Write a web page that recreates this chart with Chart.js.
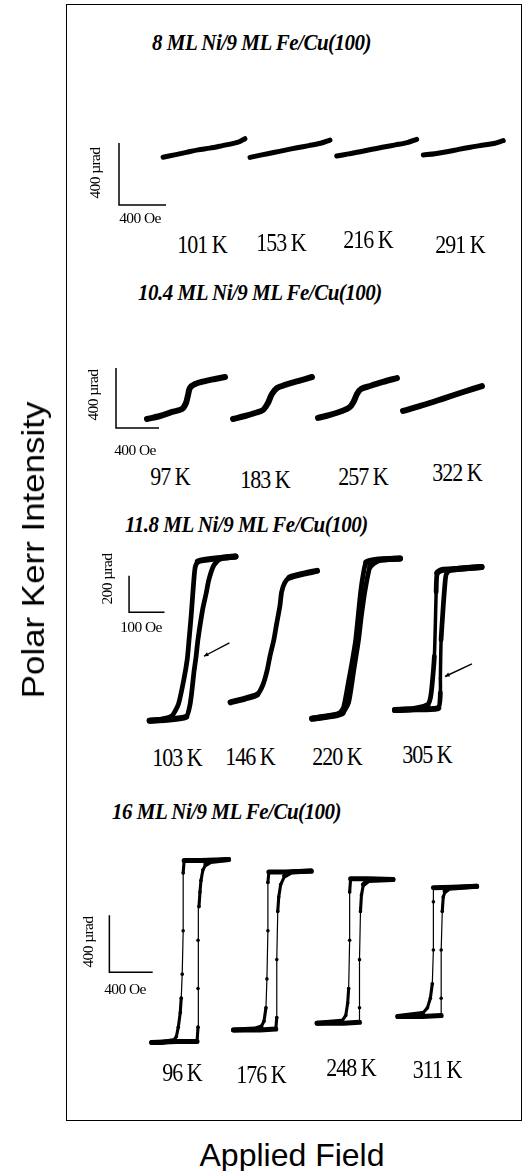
<!DOCTYPE html>
<html>
<head>
<meta charset="utf-8">
<script src="https://cdn.jsdelivr.net/npm/chart.js@4"></script>
<style>
  body { margin: 0; background: #fff; }
  #fig { position: relative; width: 524px; height: 1171px; overflow: hidden; font-family: "Liberation Serif", "Times New Roman", serif; color: #000; }
  #frame { position: absolute; left: 66px; top: 4px; width: 456px; height: 1117px; border: 1.5px solid #000; box-sizing: border-box; }
  canvas.panel { position: absolute; left: 0; }
  .lbl { position: absolute; white-space: nowrap; transform: translate(-50%, -50%); line-height: 1; }
  .title { font-weight: bold; font-style: italic; font-size: 21px; letter-spacing: -0.5px; transform: translate(0, -50%) scaleY(1.05); transform-origin: left center; }
  .temp { font-size: 22px; letter-spacing: -1px; transform: translate(-50%, -50%) scaleY(1.12); }
  .bar { font-size: 15.5px; letter-spacing: -0.6px; }
  .rot { transform: translate(-50%, -50%) rotate(-90deg); }
  .axis { font-family: "Liberation Sans", Arial, sans-serif; font-size: 32px; }
  .axis.rot { transform: translate(-50%, -50%) rotate(-90deg) scaleX(1.09); }
</style>
</head>
<body>
<div id="fig">
  <div id="frame"></div>
  <canvas class="panel" id="p1"></canvas>
  <canvas class="panel" id="p2"></canvas>
  <canvas class="panel" id="p3"></canvas>
  <canvas class="panel" id="p4"></canvas>
</div>
<script>
// Field H in Oe, Kerr signal in µrad, each loop centred on (0, 0)

// 8 ML Ni / 9 ML Fe
const temps8 = ['101 K', '153 K', '216 K', '291 K'];
const ni8_101 = [[-348, -60], [-250, -44], [-150, -28], [-50, -12], [50, -1], [150, 14], [250, 30], [300, 40], [348, 60]];
const ni8_153 = [[-340, -56], [-240, -40], [-140, -25], [-40, -9], [60, 6], [160, 20], [260, 35], [340, 56]];
const ni8_216 = [[-340, -54], [-240, -40], [-140, -26], [-40, -10], [60, 4], [160, 18], [260, 33], [340, 54]];
const ni8_291 = [[-340, -46], [-240, -38], [-140, -26], [-40, -10], [60, 4], [160, 16], [260, 28], [340, 46]];

// 10.4 ML Ni / 9 ML Fe
const temps104 = ['97 K', '183 K', '257 K', '322 K'];
const ni104_97 = [[-363, -140], [-242, -120], [-130, -93], [-37, -73], [0, -33], [19, 20], [37, 67], [84, 93], [177, 113], [270, 127], [363, 140]];
const ni104_183 = [[-367, -140], [-256, -120], [-163, -100], [-88, -80], [-42, -33], [-5, 27], [42, 67], [116, 87], [237, 113], [367, 140]];
const ni104_257 = [[-367, -133], [-256, -113], [-144, -87], [-70, -60], [-33, -20], [-5, 27], [33, 60], [116, 80], [237, 107], [367, 133]];
const ni104_322 = [[-367, -83], [-200, -48], [0, -2], [200, 45], [367, 83]];

// 11.8 ML Ni / 9 ML Fe (descending and ascending branches)
const temps118 = ['103 K', '146 K', '220 K', '305 K'];
const ni118_103_down = [[121, 450], [65, 439], [15, 423], [7, 387], [1, 255], [-4, 124], [-10, -8], [-15, -113], [-24, -218], [-40, -360], [-60, -429], [-88, -445], [-121, -450]];
const ni118_103_up = [[-121, -450], [-74, -445], [-18, -429], [-7, -360], [-1, -271], [4, -181], [10, -97], [15, -8], [29, 166], [38, 245], [46, 323], [60, 402], [79, 439], [121, 450]];
const ni118_146 = [[-122, -355], [-81, -334], [-47, -313], [-31, -260], [-19, -181], [-11, -103], [0, -13], [8, 76], [17, 171], [22, 250], [31, 302], [44, 329], [72, 345], [122, 366]];
const ni118_220_down = [[124, 439], [63, 434], [29, 418], [21, 360], [13, 255], [-1, -8], [-12, -139], [-21, -234], [-35, -376], [-49, -413], [-90, -429], [-124, -439]];
const ni118_220_up = [[-124, -439], [-63, -423], [-38, -408], [-21, -350], [-7, -181], [7, -8], [15, 124], [26, 271], [40, 397], [63, 429], [124, 439]];
const ni118_305_down = [[122, 392], [53, 381], [11, 376], [-3, 360], [-6, 255], [-8, 97], [-11, -97], [-17, -245], [-22, -324], [-31, -366], [-72, -387], [-122, -392]];
const ni118_305_up = [[-122, -392], [-58, -387], [0, -381], [6, -297], [6, -218], [8, -8], [14, 176], [17, 255], [22, 350], [33, 376], [81, 387], [122, 392]];

// 16 ML Ni / 9 ML Fe (descending and ascending branches)
const temps16 = ['96 K', '176 K', '248 K', '311 K'];
const ni16_96_down = [[355, 644], [100, 637], [-55, 637], [-64, 549], [-64, 142], [-73, -163], [-82, -332], [-91, -434], [-109, -536], [-127, -603], [-155, -631], [-264, -644], [-355, -644]];
const ni16_96_up = [[-355, -644], [-127, -637], [64, -637], [73, -536], [73, -264], [73, 75], [82, 312], [91, 414], [100, 495], [118, 570], [146, 610], [191, 630], [355, 644]];
const ni16_176_down = [[359, 559], [114, 553], [-32, 553], [-41, 478], [-41, 139], [-50, -200], [-59, -403], [-77, -498], [-105, -539], [-159, -553], [-359, -559]];
const ni16_176_up = [[-359, -559], [-114, -559], [32, -553], [41, -471], [41, -64], [50, 275], [59, 376], [77, 464], [114, 525], [177, 553], [359, 559]];
const ni16_248_down = [[350, 502], [123, 508], [-41, 508], [-50, 414], [-50, 75], [-59, -264], [-68, -366], [-86, -454], [-123, -495], [-350, -508]];
const ni16_248_up = [[-350, -508], [-105, -508], [41, -502], [41, -400], [41, -61], [50, 278], [59, 393], [77, 468], [123, 495], [350, 502]];
const ni16_311_down = [[363, 458], [137, 451], [-36, 448], [-36, 349], [-36, 10], [-46, -227], [-64, -329], [-91, -397], [-137, -437], [-364, -458]];
const ni16_311_up = [[-364, -458], [-137, -458], [36, -451], [36, -329], [36, 10], [46, 281], [55, 383], [73, 424], [109, 444], [364, 458]];

// Scale bars: [field, signal]
const bar8 = [400, 400];
const bar104 = [400, 400];
const bar118 = [100, 200];
const bar16 = [400, 400];

// Layout of the four panels (page pixels)
const panels = [
  { id: 'p1', top: 110, height: 120, oePx: 400 / 47, uradPx: 400 / 62,
    centers: [[204, 148], [290, 148.7], [376.7, 147.7], [463.3, 147.8]],
    loops: [[ni8_101], [ni8_153], [ni8_216], [ni8_291]],
    bar: bar8, corner: [119, 205], thin: 5, thick: 5, dot: 0, tension: 0.3,
    title: '8 ML Ni/9 ML Fe/Cu(100)', titleAt: [152, 43],
    temps: temps8, tempAt: [[202, 245], [281, 243], [368, 240], [460, 245]],
    barLbl: ['400 µrad', '400 Oe'], barLblAt: [[95, 173], [140, 218]] },
  { id: 'p2', top: 355, height: 85, oePx: 400 / 43, uradPx: 400 / 60,
    centers: [[186, 398], [272.5, 398], [357.5, 398], [442.5, 398.5]],
    loops: [[ni104_97], [ni104_183], [ni104_257], [ni104_322]],
    bar: bar104, corner: [116, 428], thin: 6, thick: 6, dot: 0, tension: 0.3,
    title: '10.4 ML Ni/9 ML Fe/Cu(100)', titleAt: [138, 293],
    temps: temps104, tempAt: [[170, 477], [265, 480], [363, 477], [457, 473]],
    barLbl: ['400 µrad', '400 Oe'], barLblAt: [[93, 395], [135, 450]] },
  { id: 'p3', top: 540, height: 200, oePx: 100 / 36, uradPx: 200 / 38,
    centers: [[191.5, 638.5], [274, 637.5], [357.5, 638.5], [441, 638.5]],
    loops: [[ni118_103_down, ni118_103_up], [ni118_146], [ni118_220_down, ni118_220_up], [ni118_305_down, ni118_305_up]],
    bar: bar118, corner: [127, 611], thin: 3.5, thick: 6, dot: 1.6, tension: 0.2,
    arrows: [{ loop: 0, tail: [104, -24], tip: [32, -97] }, { loop: 3, tail: [95, -139], tip: [19, -208] }],
    title: '11.8 ML Ni/9 ML Fe/Cu(100)', titleAt: [125, 525],
    temps: temps118, tempAt: [[177, 758], [250, 757], [337, 757], [427, 755]],
    barLbl: ['200 µrad', '100 Oe'], barLblAt: [[107, 579], [141, 627]] },
  { id: 'p4', top: 840, height: 220, oePx: 400 / 44, uradPx: 400 / 59,
    centers: [[189, 951], [272.5, 950.5], [356.5, 951], [440, 951.5]],
    loops: [[ni16_96_down, ni16_96_up], [ni16_176_down, ni16_176_up], [ni16_248_down, ni16_248_up], [ni16_311_down, ni16_311_up]],
    bar: bar16, corner: [107, 973], thin: 1.2, thick: 5, dot: 1.8, tension: 0,
    title: '16 ML Ni/9 ML Fe/Cu(100)', titleAt: [112, 812],
    temps: temps16, tempAt: [[182, 1073], [261, 1075], [351, 1068], [437, 1070]],
    barLbl: ['400 µrad', '400 Oe'], barLblAt: [[88, 942], [125, 989]] }
];

const fig = document.getElementById('fig');

function addLabel(text, cls, x, y) {
  const d = document.createElement('div');
  d.className = 'lbl ' + cls;
  d.textContent = text;
  d.style.left = x + 'px';
  d.style.top = y + 'px';
  fig.appendChild(d);
}

// small arrows pointing at a branch
const arrowPlugin = {
  id: 'arrows',
  afterDatasetsDraw(chart, args, opts) {
    const p = opts.panel;
    if (!p.arrows) return;
    const ctx = chart.ctx, sx = chart.scales.x, sy = chart.scales.y;
    p.arrows.forEach(a => {
      const [ox, oy] = p.offsets[a.loop];
      const x0 = sx.getPixelForValue(ox + a.tail[0]), y0 = sy.getPixelForValue(oy + a.tail[1]);
      const x1 = sx.getPixelForValue(ox + a.tip[0]), y1 = sy.getPixelForValue(oy + a.tip[1]);
      const ang = Math.atan2(y1 - y0, x1 - x0);
      ctx.save();
      ctx.strokeStyle = '#000';
      ctx.lineWidth = 1.4;
      ctx.beginPath();
      ctx.moveTo(x0, y0);
      ctx.lineTo(x1, y1);
      ctx.stroke();
      ctx.beginPath();
      ctx.moveTo(x1, y1);
      ctx.lineTo(x1 - 5 * Math.cos(ang - 0.45), y1 - 5 * Math.sin(ang - 0.45));
      ctx.lineTo(x1 - 5 * Math.cos(ang + 0.45), y1 - 5 * Math.sin(ang + 0.45));
      ctx.closePath();
      ctx.fillStyle = '#000';
      ctx.fill();
      ctx.restore();
    });
  }
};

panels.forEach(p => {
  const canvas = document.getElementById(p.id);
  canvas.width = 524;
  canvas.height = p.height;
  canvas.style.top = p.top + 'px';

  // page pixel -> data value inside this panel
  const toX = px => px * p.oePx;
  const toY = py => (p.top + p.height - py) * p.uradPx;
  p.offsets = p.centers.map(([cx, cy]) => [toX(cx), toY(cy)]);

  const datasets = [];
  p.loops.forEach((branches, i) => {
    const [ox, oy] = p.offsets[i];
    branches.forEach(branch => {
      datasets.push({
        data: branch.map(([h, m]) => ({ x: ox + h, y: oy + m })),
        showLine: true,
        borderColor: '#000',
        backgroundColor: '#000',
        borderWidth: p.thick,
        borderCapStyle: 'round',
        borderJoinStyle: 'round',
        pointRadius: p.dot,
        pointBorderWidth: 0,
        tension: p.tension,
        clip: false,
        segment: {
          borderWidth: ctx => {
            const dx = Math.abs(ctx.p1.x - ctx.p0.x), dy = Math.abs(ctx.p1.y - ctx.p0.y);
            const r = dx / Math.max(dy, 0.01);
            if (r < 0.05) return p.thin;
            if (r < 1) return (p.thin + p.thick) / 2;
            return p.thick;
          }
        }
      });
    });
  });

  // scale bar: vertical signal bar and horizontal field bar sharing a corner
  const bx = toX(p.corner[0]), by = toY(p.corner[1]);
  datasets.push({
    data: [{ x: bx, y: by + p.bar[1] }, { x: bx, y: by }, { x: bx + p.bar[0], y: by }],
    showLine: true,
    borderColor: '#000',
    borderWidth: 1.5,
    pointRadius: 0,
    tension: 0,
    clip: false
  });

  new Chart(canvas, {
    type: 'scatter',
    data: { datasets },
    options: {
      responsive: false,
      animation: false,
      events: [],
      layout: { padding: 0 },
      plugins: { legend: { display: false }, tooltip: { enabled: false }, arrows: { panel: p } },
      scales: {
        x: { type: 'linear', display: false, min: 0, max: 524 * p.oePx },
        y: { type: 'linear', display: false, min: 0, max: p.height * p.uradPx }
      }
    },
    plugins: [arrowPlugin]
  });

  addLabel(p.title, 'title', p.titleAt[0], p.titleAt[1]);
  p.temps.forEach((t, i) => addLabel(t, 'temp', p.tempAt[i][0], p.tempAt[i][1]));
  addLabel(p.barLbl[0], 'bar rot', p.barLblAt[0][0], p.barLblAt[0][1]);
  addLabel(p.barLbl[1], 'bar', p.barLblAt[1][0], p.barLblAt[1][1]);
});

addLabel('Polar Kerr Intensity', 'axis rot', 33, 550);
addLabel('Applied Field', 'axis', 292, 1155);
</script>
</body>
</html>
